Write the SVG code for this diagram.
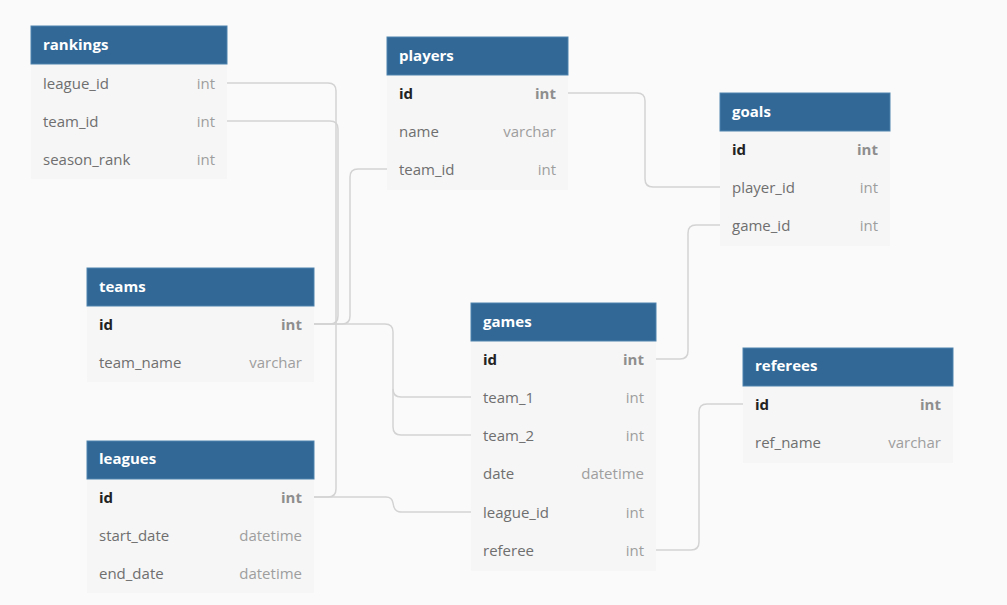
<svg xmlns="http://www.w3.org/2000/svg" width="1007" height="605" viewBox="0 0 1007 605">
<style>
.bg{fill:#fafafa}
.hd{fill:#316896;stroke:#4f82ad;stroke-width:1}
.body{fill:#f6f6f6}
.ht{font-family:"Open Sans","Liberation Sans",sans-serif;font-size:15px;font-weight:700;fill:#ffffff}
.fn{font-family:"Open Sans","Liberation Sans",sans-serif;font-size:15px;fill:#6f6f6f}
.ft{font-family:"Open Sans","Liberation Sans",sans-serif;font-size:15px;fill:#9e9e9e;text-anchor:end}
.pk{font-family:"Open Sans","Liberation Sans",sans-serif;font-size:15px;font-weight:700;fill:#222222}
.pt{font-family:"Open Sans","Liberation Sans",sans-serif;font-size:15px;font-weight:700;fill:#8e8e8e;text-anchor:end}
.c{fill:none;stroke:#d3d3d3;stroke-width:1.5}
</style>
<rect class="bg" x="0" y="0" width="1007" height="605"/>
<g id="connectors">
<path class="c" d="M227 83 H328 Q336 83 336 91 V489 Q336 497 328 497 H314"/>
<path class="c" d="M227 121 H330 Q338 121 338 129 V316 Q338 324 330 324 H314"/>
<path class="c" d="M387 169 H358 Q350 169 350 177 V316 Q350 324 342 324 H314"/>
<path class="c" d="M314 324 H385 Q393 324 393 332 V389 Q393 397 401 397 H471"/>
<path class="c" d="M393 389 V427 Q393 435 401 435 H471"/>
<path class="c" d="M314 497 H386 Q392 497 393 503 Q394 512 401 512 H471"/>
<path class="c" d="M568 93 H637 Q645 93 645 101 V179 Q645 187 653 187 H720"/>
<path class="c" d="M656 359 H680 Q688 359 688 351 V233 Q688 225 696 225 H720"/>
<path class="c" d="M656 550 H691 Q699 550 699 542 V412 Q699 404 707 404 H743"/>
</g>
<g id="rankings">
<rect class="body" x="31" y="64" width="196" height="115"/>
<rect class="hd" x="31" y="26" width="196" height="38"/>
<text class="ht" x="43" y="50">rankings</text>
<text class="fn" x="43" y="89">league_id</text><text class="ft" x="215" y="89">int</text>
<text class="fn" x="43" y="127">team_id</text><text class="ft" x="215" y="127">int</text>
<text class="fn" x="43" y="165">season_rank</text><text class="ft" x="215" y="165">int</text>
</g>
<g id="players">
<rect class="body" x="387" y="75" width="181" height="115"/>
<rect class="hd" x="387" y="37" width="181" height="38"/>
<text class="ht" x="399" y="61">players</text>
<text class="pk" x="399" y="99">id</text><text class="pt" x="556" y="99">int</text>
<text class="fn" x="399" y="137">name</text><text class="ft" x="556" y="137">varchar</text>
<text class="fn" x="399" y="175">team_id</text><text class="ft" x="556" y="175">int</text>
</g>
<g id="goals">
<rect class="body" x="720" y="131" width="170" height="115"/>
<rect class="hd" x="720" y="93" width="170" height="38"/>
<text class="ht" x="732" y="117">goals</text>
<text class="pk" x="732" y="155">id</text><text class="pt" x="878" y="155">int</text>
<text class="fn" x="732" y="193">player_id</text><text class="ft" x="878" y="193">int</text>
<text class="fn" x="732" y="231">game_id</text><text class="ft" x="878" y="231">int</text>
</g>
<g id="teams">
<rect class="body" x="87" y="306" width="227" height="76"/>
<rect class="hd" x="87" y="268" width="227" height="38"/>
<text class="ht" x="99" y="292">teams</text>
<text class="pk" x="99" y="330">id</text><text class="pt" x="302" y="330">int</text>
<text class="fn" x="99" y="368">team_name</text><text class="ft" x="302" y="368">varchar</text>
</g>
<g id="leagues">
<rect class="body" x="87" y="479" width="227" height="114"/>
<rect class="hd" x="87" y="441" width="227" height="38"/>
<text class="ht" x="99" y="464">leagues</text>
<text class="pk" x="99" y="503">id</text><text class="pt" x="302" y="503">int</text>
<text class="fn" x="99" y="541">start_date</text><text class="ft" x="302" y="541">datetime</text>
<text class="fn" x="99" y="579">end_date</text><text class="ft" x="302" y="579">datetime</text>
</g>
<g id="games">
<rect class="body" x="471" y="341" width="185" height="230"/>
<rect class="hd" x="471" y="303" width="185" height="38"/>
<text class="ht" x="483" y="327">games</text>
<text class="pk" x="483" y="365">id</text><text class="pt" x="644" y="365">int</text>
<text class="fn" x="483" y="403">team_1</text><text class="ft" x="644" y="403">int</text>
<text class="fn" x="483" y="441">team_2</text><text class="ft" x="644" y="441">int</text>
<text class="fn" x="483" y="479">date</text><text class="ft" x="644" y="479">datetime</text>
<text class="fn" x="483" y="518">league_id</text><text class="ft" x="644" y="518">int</text>
<text class="fn" x="483" y="556">referee</text><text class="ft" x="644" y="556">int</text>
</g>
<g id="referees">
<rect class="body" x="743" y="386" width="210" height="77"/>
<rect class="hd" x="743" y="348" width="210" height="38"/>
<text class="ht" x="755" y="371">referees</text>
<text class="pk" x="755" y="410">id</text><text class="pt" x="941" y="410">int</text>
<text class="fn" x="755" y="448">ref_name</text><text class="ft" x="941" y="448">varchar</text>
</g>
</svg>
